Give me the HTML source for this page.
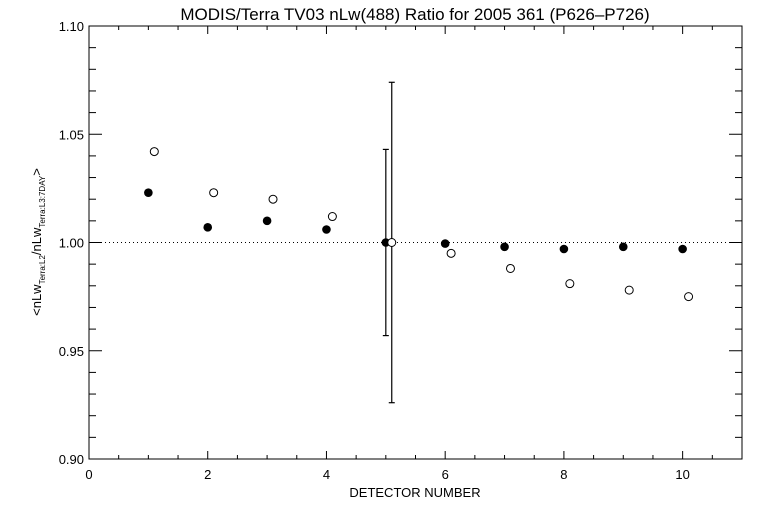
<!DOCTYPE html>
<html><head><meta charset="utf-8"><style>
body{margin:0;background:#fff}
svg{display:block;font-family:"Liberation Sans","DejaVu Sans",sans-serif}
</style></head><body>
<svg id="chart" width="768" height="512" viewBox="0 0 768 512" xmlns="http://www.w3.org/2000/svg">
<rect width="768" height="512" fill="#fff"/>
<text x="415" y="20" font-size="17" text-anchor="middle">MODIS/Terra TV03 nLw(488) Ratio for 2005 361 (P626–P726)</text>
<text x="415" y="497" font-size="13" text-anchor="middle">DETECTOR NUMBER</text>
<text transform="translate(41,242) rotate(-90)" font-size="13" text-anchor="middle">&lt;nLw<tspan font-size="8" dy="4">Terra:L2</tspan><tspan dy="-4">/nLw</tspan><tspan font-size="8" dy="4">Terra:L3:7DAY</tspan><tspan dy="-4">&gt;</tspan></text>
<g id="axes"></g>
<g id="marks"></g>
</svg>
<script>
const detectors=[1,2,3,4,5,6,7,8,9,10];
const filledValues=[1.023,1.007,1.010,1.006,1.000,0.9995,0.998,0.997,0.998,0.997];
const openValues=[1.042,1.023,1.020,1.012,1.000,0.995,0.988,0.981,0.978,0.975];
const openOffset=0.1;
const errorBarFilled=[5,0.957,1.043];
const errorBarOpen=[5.1,0.926,1.074];
const xTickLabels=["0","2","4","6","8","10"];
const yTickLabels=["0.90","0.95","1.00","1.05","1.10"];
const referenceValue=1.0;

const L=89,R=742,T=26,B=459,X0=0,X1=11,Y0=0.90,Y1=1.10;
const xs=v=>L+(v-X0)/(X1-X0)*(R-L);
const ys=v=>B-(v-Y0)/(Y1-Y0)*(B-T);
const NS="http://www.w3.org/2000/svg";
function mk(tag,attrs,parent){const e=document.createElementNS(NS,tag);for(const k in attrs)e.setAttribute(k,attrs[k]);parent.appendChild(e);return e;}
const ax=document.getElementById('axes'),mg=document.getElementById('marks');
const frame=mk('rect',{x:L,y:T,width:R-L,height:B-T,fill:'none',stroke:'#000','stroke-width':1},ax);


for(let i=0;i<=22;i++){const v=i*0.5,x=xs(v),maj=(i%4===0),len=maj?8:4;
 const t1=mk('line',{x1:x,x2:x,y1:B,y2:B-len,stroke:'#000'},ax);
 
 
 const t2=mk('line',{x1:x,x2:x,y1:T,y2:T+len,stroke:'#000'},ax);
 
 }
xTickLabels.forEach(s=>{const t=mk('text',{x:xs(+s),y:B+20,'font-size':13,'text-anchor':'middle'},ax);t.textContent=s;
 
 });
for(let i=0;i<=20;i++){const v=Y0+i*0.01,y=ys(v),maj=(i%5===0),len=maj?13:7;
 const t1=mk('line',{x1:L,x2:L+len,y1:y,y2:y,stroke:'#000'},ax);
 
 
 const t2=mk('line',{x1:R,x2:R-len,y1:y,y2:y,stroke:'#000'},ax);
 
 }
yTickLabels.forEach(s=>{const t=mk('text',{x:L-5,y:ys(+s)+5,'font-size':13,'text-anchor':'end'},ax);t.textContent=s;
 
 });
const ref=mk('line',{x1:L,x2:R,y1:ys(referenceValue),y2:ys(referenceValue),stroke:'#000','stroke-dasharray':'1,3'},ax);


function ebar(e,name){const x=xs(e[0]);
 const g=mk('g',{stroke:'#000','stroke-width':1.2},mg);
 
 
 mk('line',{x1:x,x2:x,y1:ys(e[1]),y2:ys(e[2])},g);
 mk('line',{x1:x-3,x2:x+3,y1:ys(e[1]),y2:ys(e[1])},g);
 mk('line',{x1:x-3,x2:x+3,y1:ys(e[2]),y2:ys(e[2])},g);}
ebar(errorBarFilled,'error-bar-filled');
ebar(errorBarOpen,'error-bar-open');
detectors.forEach((d,i)=>{
 const c=mk('circle',{cx:xs(d),cy:ys(filledValues[i]),r:4.3,fill:'#000'},mg);
 
 
 const o=mk('circle',{cx:xs(d+openOffset),cy:ys(openValues[i]),r:4,fill:'#fff',stroke:'#000','stroke-width':1},mg);
 
 
});
</script>
</body></html>
